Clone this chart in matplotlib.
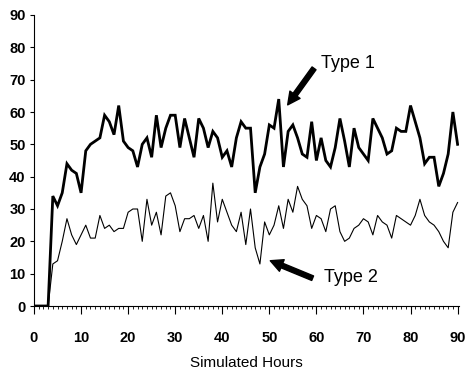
from matplotlib import pyplot as plt
from matplotlib.ticker import MultipleLocator

plt.rcParams['font.family'] = ['Liberation Sans', 'DejaVu Sans']

hours = list(range(0, 91))

# Type 1 (thick line), one value per simulated hour
type1 = [0, 0, 0, 0, 34, 31, 35, 44, 42, 41,
         35, 48, 50, 51, 52, 59, 57, 53, 62, 51,
         49, 48, 43, 50, 52, 46, 59, 49, 55, 59,
         59, 49, 58, 52, 46, 58, 55, 49, 54, 52,
         46, 48, 43, 52, 57, 55, 55, 35, 43, 47,
         56, 55, 64, 43, 54, 56, 52, 47, 46, 57,
         45, 52, 45, 43, 49, 58, 51, 43, 55, 49,
         47, 45, 58, 55, 52, 47, 48, 55, 54, 54,
         62, 57, 52, 44, 46, 46, 37, 41, 47, 60,
         50]

# Type 2 (thin line)
type2 = [0, 0, 0, 0, 13, 14, 20, 27, 22, 19,
         22, 25, 21, 21, 28, 24, 25, 23, 24, 24,
         29, 30, 30, 20, 33, 25, 29, 22, 34, 35,
         31, 23, 27, 27, 28, 24, 28, 20, 38, 26,
         33, 29, 25, 23, 29, 19, 30, 18, 13, 26,
         22, 25, 31, 24, 33, 29, 37, 33, 31, 24,
         28, 27, 23, 30, 31, 23, 20, 21, 24, 25,
         27, 26, 22, 28, 26, 25, 21, 28, 27, 26,
         25, 28, 33, 28, 26, 25, 23, 20, 18, 29,
         32]

f = plt.figure(figsize=(4.68, 3.73), dpi=100)
ax = f.add_axes([34/468, 67/373, 425/468, 291/373])

ax.plot(hours, type1, color='black', lw=2.0, solid_joinstyle='miter')
ax.plot(hours, type2, color='black', lw=0.8)

ax.set_xlim(0, 90.3)
ax.set_ylim(0, 90)
ax.xaxis.set_major_locator(MultipleLocator(10))
ax.xaxis.set_minor_locator(MultipleLocator(1))
ax.yaxis.set_major_locator(MultipleLocator(10))

ax.spines['top'].set_visible(False)
ax.spines['right'].set_visible(False)
ax.spines['left'].set_linewidth(0.8)
ax.spines['bottom'].set_linewidth(0.8)
ax.spines['bottom'].set_linestyle((0, (1, 1)))

ax.tick_params(axis='x', which='major', direction='out', length=6, width=0.8, pad=12, labelsize=10.5)
ax.tick_params(axis='x', which='minor', direction='out', length=2, width=0.6)
ax.tick_params(axis='y', which='major', direction='out', length=3, width=0.8, pad=3, labelsize=10.5)
for lab in ax.get_xticklabels() + ax.get_yticklabels():
    lab.set_fontweight('bold')

ax.set_xlabel("Simulated Hours", fontsize=11, labelpad=8)

# arrows and labels
ax.annotate("", xy=(53.9, 62.2), xytext=(59.5, 73.5),
            arrowprops=dict(facecolor='black', edgecolor='black', width=3.5,
                            headwidth=9, headlength=9, shrink=0))
ax.text(61.0, 73.7, "Type 1", fontsize=13, ha='left', va='baseline')

ax.annotate("", xy=(50.2, 14.0), xytext=(59.2, 8.6),
            arrowprops=dict(facecolor='black', edgecolor='black', width=3.5,
                            headwidth=9, headlength=9, shrink=0))
ax.text(61.7, 7.5, "Type 2", fontsize=13, ha='left', va='baseline')

plt.savefig("out.png", dpi=100)
